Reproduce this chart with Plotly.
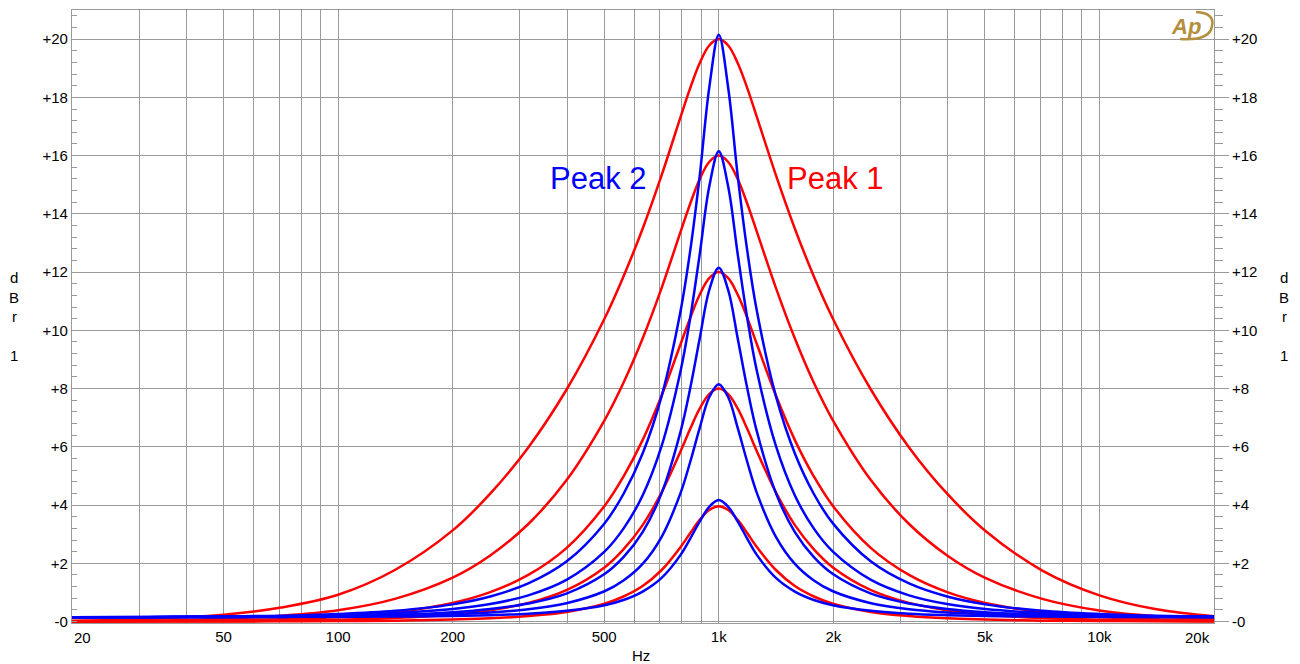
import plotly.graph_objects as go
import math

# ---------------- data ----------------
freq_hz = [20, 31.6, 50.1, 70.8, 100, 141, 200, 251, 316, 398, 501, 562, 631, 708, 794, 841, 891, 944,
           1000, 1059, 1122, 1189, 1259, 1413, 1585, 1778, 1995, 2512, 3162, 3981, 5012, 7079, 10000, 14125, 20000]

# Peak 1 (red) responses, dB
peak1_20 = [0.03, 0.09, 0.23, 0.48, 0.92, 1.77, 3.13, 4.39, 5.98, 7.96, 10.40, 11.85, 13.49, 15.33, 17.33, 18.31, 19.17, 19.78,
            20.00, 19.78, 19.17, 18.31, 17.33, 15.33, 13.49, 11.85, 10.40, 7.96, 5.98, 4.39, 3.12, 1.75, 0.90, 0.42, 0.18]
peak1_16 = [0.01, 0.03, 0.10, 0.20, 0.39, 0.78, 1.51, 2.27, 3.35, 4.85, 6.91, 8.20, 9.72, 11.46, 13.39, 14.34, 15.19, 15.78,
            16.00, 15.78, 15.19, 14.34, 13.39, 11.46, 9.72, 8.20, 6.91, 4.85, 3.35, 2.27, 1.50, 0.78, 0.38, 0.18, 0.08]
peak1_12 = [0.01, 0.02, 0.04, 0.08, 0.16, 0.32, 0.64, 1.01, 1.60, 2.52, 3.97, 4.98, 6.23, 7.76, 9.53, 10.42, 11.22, 11.79,
            12.00, 11.79, 11.22, 10.42, 9.53, 7.76, 6.23, 4.98, 3.97, 2.52, 1.60, 1.01, 0.64, 0.32, 0.16, 0.08, 0.04]
peak1_8 = [0.00, 0.01, 0.01, 0.03, 0.06, 0.12, 0.24, 0.39, 0.64, 1.08, 1.86, 2.48, 3.31, 4.44, 5.85, 6.61, 7.31, 7.81,
           8.00, 7.81, 7.31, 6.61, 5.85, 4.44, 3.31, 2.48, 1.86, 1.08, 0.64, 0.39, 0.24, 0.12, 0.06, 0.03, 0.01]
peak1_4 = [0.00, 0.00, 0.00, 0.01, 0.02, 0.03, 0.07, 0.11, 0.19, 0.33, 0.61, 0.86, 1.22, 1.77, 2.56, 3.03, 3.49, 3.83,
           3.96, 3.83, 3.49, 3.03, 2.56, 1.77, 1.22, 0.86, 0.61, 0.33, 0.19, 0.11, 0.07, 0.03, 0.02, 0.01, 0.00]

# Peak 2 (blue) responses, dB
peak2_20 = [0.15, 0.16, 0.18, 0.20, 0.26, 0.37, 0.59, 0.86, 1.31, 2.06, 3.37, 4.38, 5.77, 7.74, 10.67, 12.71, 15.29, 18.32,
            20.15, 18.32, 15.29, 12.71, 10.67, 7.74, 5.77, 4.38, 3.37, 2.06, 1.31, 0.86, 0.59, 0.37, 0.26, 0.20, 0.18]
peak2_16 = [0.15, 0.16, 0.17, 0.18, 0.22, 0.29, 0.43, 0.60, 0.90, 1.43, 2.40, 3.19, 4.33, 6.03, 8.61, 10.40, 12.60, 14.93,
            16.15, 14.93, 12.60, 10.40, 8.61, 6.03, 4.33, 3.19, 2.40, 1.43, 0.90, 0.60, 0.43, 0.29, 0.22, 0.18, 0.17]
peak2_12 = [0.15, 0.15, 0.16, 0.17, 0.19, 0.23, 0.32, 0.43, 0.62, 0.96, 1.63, 2.21, 3.07, 4.41, 6.53, 7.99, 9.71, 11.38,
            12.15, 11.38, 9.71, 7.99, 6.53, 4.41, 3.07, 2.21, 1.63, 0.96, 0.62, 0.43, 0.32, 0.23, 0.19, 0.17, 0.16]
peak2_8 = [0.15, 0.15, 0.16, 0.16, 0.17, 0.20, 0.25, 0.31, 0.42, 0.63, 1.04, 1.41, 1.98, 2.91, 4.42, 5.47, 6.64, 7.70,
           8.15, 7.70, 6.64, 5.47, 4.42, 2.91, 1.98, 1.41, 1.04, 0.63, 0.42, 0.31, 0.25, 0.20, 0.17, 0.16, 0.16]
peak2_4 = [0.15, 0.15, 0.15, 0.16, 0.16, 0.17, 0.19, 0.22, 0.27, 0.37, 0.56, 0.74, 1.03, 1.50, 2.29, 2.84, 3.43, 3.94,
           4.17, 3.94, 3.43, 2.84, 2.29, 1.50, 1.03, 0.74, 0.56, 0.37, 0.27, 0.22, 0.19, 0.17, 0.16, 0.16, 0.15]

# axis ticks
x_grid = [20, 30, 40, 50, 60, 70, 80, 90, 100, 200, 300, 400, 500, 600, 700, 800, 900,
          1000, 2000, 3000, 4000, 5000, 6000, 7000, 8000, 9000, 10000, 20000]
x_labels = {50: "50", 100: "100", 200: "200", 500: "500", 1000: "1k", 2000: "2k", 5000: "5k", 10000: "10k"}
y_ticks = [0, 2, 4, 6, 8, 10, 12, 14, 16, 18, 20]
y_labels = ["-0", "+2", "+4", "+6", "+8", "+10", "+12", "+14", "+16", "+18", "+20"]

RED = "#ff0000"
BLUE = "#0000ff"
GRID = "#9a9a9a"
FONT = "Liberation Sans, Arial, sans-serif"

fig = go.Figure()
for ys in [peak1_4, peak1_8, peak1_12, peak1_16, peak1_20]:
    fig.add_trace(go.Scatter(x=freq_hz, y=ys, mode="lines", line=dict(color=RED, width=2.5, shape="spline"),
                             hoverinfo="skip", showlegend=False))
for ys in [peak2_4, peak2_8, peak2_12, peak2_16, peak2_20]:
    fig.add_trace(go.Scatter(x=freq_hz, y=ys, mode="lines", line=dict(color=BLUE, width=2.5, shape="spline"),
                             hoverinfo="skip", showlegend=False))
# anchor trace for the right-hand axis
fig.add_trace(go.Scatter(x=[1000], y=[0], yaxis="y2", mode="markers", marker=dict(opacity=0),
                         hoverinfo="skip", showlegend=False))

YR = [-0.05, 21.0]
fig.update_layout(
    width=1300, height=664,
    margin=dict(l=72, r=86, t=10, b=41, autoexpand=False),
    plot_bgcolor="white", paper_bgcolor="white",
    showlegend=False,
    font=dict(family=FONT, size=15, color="#000000"),
    xaxis=dict(type="log", range=[math.log10(20), math.log10(20000)],
               tickvals=x_grid, ticktext=[x_labels.get(v, "") for v in x_grid],
               showgrid=True, gridcolor=GRID, gridwidth=1.2,
               showline=True, linecolor=GRID, linewidth=1.2, mirror=True,
               ticks="", zeroline=False, tickfont=dict(size=15, color="#000")),
    yaxis=dict(range=YR, tickvals=y_ticks, ticktext=y_labels,
               showgrid=True, gridcolor=GRID, gridwidth=1.2,
               showline=True, linecolor=GRID, linewidth=1.2, mirror=True,
               ticks="", zeroline=False, tickfont=dict(size=15, color="#000"),
               minor=dict(tick0=0, dtick=0.4, ticks="inside", ticklen=5, tickcolor=GRID, tickwidth=1.2,
                          showgrid=False)),
    yaxis2=dict(range=YR, overlaying="y", side="right", tickvals=y_ticks, ticktext=y_labels,
                showgrid=False, zeroline=False, showline=False,
                ticks="outside", ticklen=14, tickcolor=GRID, tickwidth=1.2,
                tickfont=dict(size=15, color="#000"),
                minor=dict(tick0=0, dtick=0.4, ticks="outside", ticklen=8, tickcolor=GRID, tickwidth=1.2,
                           showgrid=False)),
)

def px(x):
    return (x - 72) / 1142.0

def py(y):
    return (623 - y) / 613.0

ann = []
ann.append(dict(text="Peak 2", x=px(598), y=py(178), xref="paper", yref="paper", showarrow=False,
                font=dict(size=31, color=BLUE, family=FONT), xanchor="center", yanchor="middle"))
ann.append(dict(text="Peak 1", x=px(835), y=py(178), xref="paper", yref="paper", showarrow=False,
                font=dict(size=31, color=RED, family=FONT), xanchor="center", yanchor="middle"))
ann.append(dict(text="20", x=px(72), y=py(637), xref="paper", yref="paper", showarrow=False,
                font=dict(size=15, color="#000", family=FONT), xanchor="left", yanchor="middle"))
ann.append(dict(text="20k", x=px(1212), y=py(637), xref="paper", yref="paper", showarrow=False,
                font=dict(size=15, color="#000", family=FONT), xanchor="right", yanchor="middle"))
ann.append(dict(text="Hz", x=px(641), y=py(655), xref="paper", yref="paper", showarrow=False,
                font=dict(size=15, color="#000", family=FONT), xanchor="center", yanchor="middle"))
for xx in (14, 1284):
    for ch, yy in (("d", 277), ("B", 297), ("r", 316), ("1", 355)):
        ann.append(dict(text=ch, x=px(xx), y=py(yy), xref="paper", yref="paper", showarrow=False,
                        font=dict(size=15, color="#000", family=FONT), xanchor="center", yanchor="middle"))
# Ap logo
GOLD = "#b38f3f"
ann.append(dict(text="<b><i>Ap</i></b>", x=px(1186), y=py(26), xref="paper", yref="paper", showarrow=False,
                font=dict(size=22, color=GOLD, family=FONT), xanchor="center", yanchor="middle"))
fig.update_layout(annotations=ann)

p0 = (px(1196), py(12)); c0 = (px(1215), py(13)); p1 = (px(1212), py(26))
c1 = (px(1210), py(41)); p2 = (px(1180), py(39))
path = "M {} {} Q {} {} {} {} Q {} {} {} {}".format(p0[0], p0[1], c0[0], c0[1], p1[0], p1[1], c1[0], c1[1], p2[0], p2[1])
fig.add_shape(type="path", path=path, xref="paper", yref="paper", line=dict(color=GOLD, width=2.5))

fig.write_html("out.html", config={"displayModeBar": False},
               post_script="document.body.style.margin='0px';document.body.style.overflow='hidden';")
